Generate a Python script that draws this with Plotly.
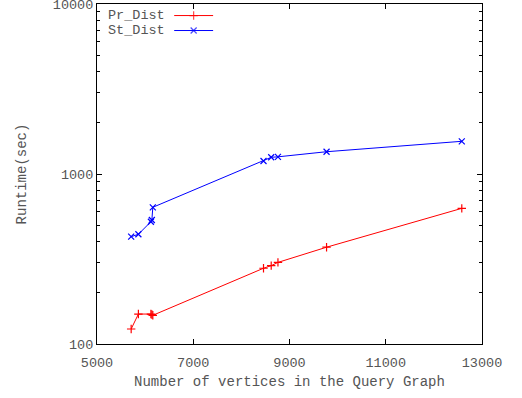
import plotly.graph_objects as go

# 數據
vertices = [5710, 5860, 6120, 6140, 6160, 8460, 8620, 8760, 9770, 12580]
pr_dist = [122.5, 150, 150, 149, 147.5, 279, 289, 302, 371, 628]
st_dist = [428, 442, 524, 536, 637, 1192, 1254, 1262, 1352, 1557]

series = [
    ("Pr_Dist", pr_dist, "#ff0000", "cross-thin"),
    ("St_Dist", st_dist, "#0000ff", "x-thin"),
]

# 對數軸次刻度 (2..9 × 10^n)
minor_vals = [m * 10 ** e for e in (2, 3) for m in range(2, 10)]

FONT = "Liberation Mono, Courier New, monospace"
GREY = "#555555"

fig = go.Figure()

for name, vals, color, sym in series:
    fig.add_trace(go.Scatter(
        x=vertices, y=vals, mode="lines+markers", name=name,
        line=dict(color=color, width=1),
        marker=dict(symbol=sym, size=6, color=color,
                    line=dict(width=1.2, color=color)),
        showlegend=False,
    ))

# gnuplot 風格圖例：文字在左，樣本線在右
key_rows = [0.966, 0.922]
for (name, vals, color, sym), ky in zip(series, key_rows):
    fig.add_trace(go.Scatter(
        x=[0.2005, 0.251, 0.3016], y=[ky, ky, ky],
        xaxis="x2", yaxis="y2", mode="lines+markers",
        line=dict(color=color, width=1),
        marker=dict(symbol=sym, size=[0, 6, 0], color=color,
                    line=dict(width=1.2, color=color)),
        showlegend=False, hoverinfo="skip",
    ))
    fig.add_annotation(
        x=0.0233, y=ky, xref="paper", yref="paper",
        text=name, showarrow=False, xanchor="left", yanchor="middle",
        font=dict(family=FONT, size=13.5, color=GREY),
    )

axis_common = dict(
    showline=True, linecolor="black", linewidth=1, mirror="ticks",
    ticks="inside", ticklen=5, tickcolor="black", showgrid=False,
    zeroline=False, automargin=False, ticklabeloverflow="allow",
    tickformat="d",
    tickfont=dict(family=FONT, size=13.5, color=GREY),
)

fig.update_layout(
    width=522, height=398,
    margin=dict(l=97, r=40, t=4, b=54),
    plot_bgcolor="white", paper_bgcolor="white",
    xaxis=dict(
        range=[5000, 13000], dtick=2000, tick0=5000,
        ticklabelstandoff=6,
        title=dict(text="Number of vertices in the Query Graph",
                   font=dict(family=FONT, size=14, color=GREY), standoff=5),
        **axis_common,
    ),
    yaxis=dict(
        type="log", range=[2, 4], dtick=1,
        title=dict(text="Runtime(sec)",
                   font=dict(family=FONT, size=14, color=GREY), standoff=22),
        **axis_common,
    ),
    xaxis2=dict(overlaying="x", range=[0, 1], visible=False),
    yaxis2=dict(overlaying="y", range=[0, 1], visible=False),
    # 次刻度用的疊加軸
    yaxis3=dict(
        overlaying="y", type="log", range=[2, 4], side="left",
        tickmode="array", tickvals=minor_vals, showticklabels=False,
        ticks="inside", ticklen=3, tickcolor="black", mirror="ticks",
        showline=False, showgrid=False, zeroline=False, automargin=False,
    ),
)

# 占位軌跡讓 yaxis3 顯示
fig.add_trace(go.Scatter(x=[None], y=[None], yaxis="y3", showlegend=False,
                         hoverinfo="skip"))

fig.write_html("out.html", config={"displayModeBar": False},
               post_script="document.body.style.margin='0';")
